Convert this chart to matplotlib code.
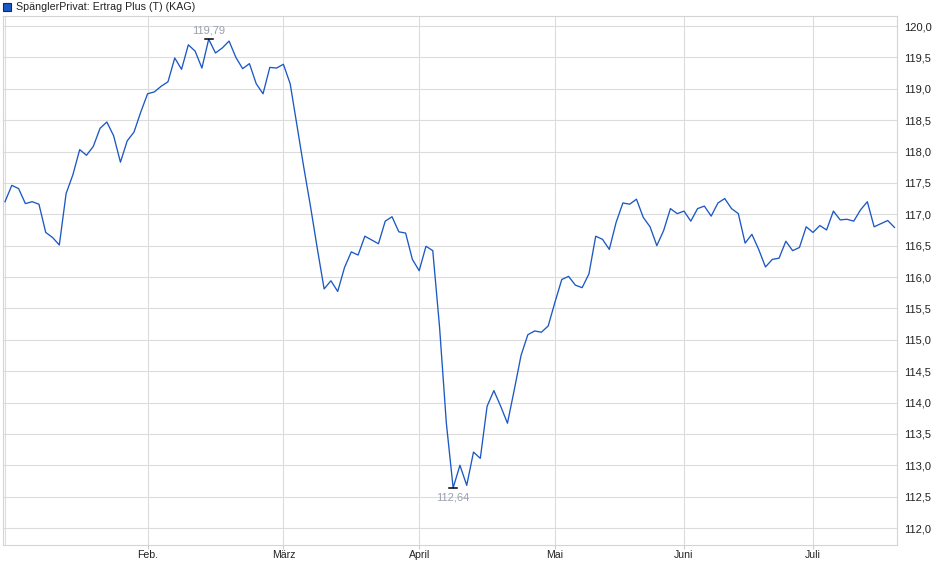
import matplotlib
matplotlib.use("Agg")
import matplotlib.pyplot as plt
from matplotlib.patches import Rectangle

plt.rcParams["font.family"] = ["Liberation Sans", "DejaVu Sans"]

# Kursverlauf (Handelstage ab Jahresbeginn)
werte = [
    117.20, 117.46, 117.41, 117.17, 117.20, 117.16, 116.71, 116.63, 116.51, 117.33,
    117.63, 118.03, 117.94, 118.08, 118.37, 118.47, 118.25, 117.83, 118.17, 118.31,
    118.63, 118.92, 118.95, 119.04, 119.11, 119.49, 119.31, 119.70, 119.60, 119.33,
    119.79, 119.57, 119.65, 119.76, 119.50, 119.32, 119.40, 119.08, 118.92, 119.34,
    119.33, 119.39, 119.08, 118.42, 117.75, 117.12, 116.45, 115.81, 115.94, 115.77,
    116.15, 116.40, 116.35, 116.65, 116.59, 116.53, 116.89, 116.96, 116.72, 116.70,
    116.28, 116.10, 116.49, 116.42, 115.20, 113.67, 112.64, 113.00, 112.68, 113.21,
    113.11, 113.94, 114.19, 113.94, 113.67, 114.20, 114.75, 115.08, 115.14, 115.12,
    115.22, 115.60, 115.96, 116.01, 115.87, 115.83, 116.05, 116.65, 116.60, 116.44,
    116.87, 117.18, 117.16, 117.24, 116.95, 116.80, 116.50, 116.74, 117.09, 117.01,
    117.05, 116.89, 117.09, 117.13, 116.97, 117.18, 117.25, 117.09, 117.01, 116.54,
    116.68, 116.44, 116.16, 116.28, 116.30, 116.57, 116.42, 116.47, 116.80, 116.71,
    116.82, 116.75, 117.05, 116.91, 116.92, 116.89, 117.07, 117.20, 116.80, 116.85,
    116.90, 116.79,
]
tage = list(range(len(werte)))

monat_pos = [21, 41, 61, 81, 100, 119]
monat_namen = ["Feb.", "März", "April", "Mai", "Juni", "Juli"]
y_ticks = [112.0 + 0.5 * k for k in range(17)]

titel = "SpänglerPrivat: Ertrag Plus (T) (KAG)"
blau = "#1c58c4"
grid = "#dcdcdc"

W, H = 940, 579
fig = plt.figure(figsize=(W / 100, H / 100), dpi=100)
ax = fig.add_axes([3 / W, 1 - 545 / H, 894 / W, 529 / H])

ax.plot(tage, werte, color=blau, lw=0.95, zorder=3)

ax.set_xlim(-2 / 6.79, 892 / 6.79)
ax.set_ylim(112 - 17 / 62.75, 120 + 10 / 62.75)

ax.set_yticks(y_ticks)
ax.set_yticklabels([f"{v:.1f}".replace(".", ",") for v in y_ticks])
ax.yaxis.tick_right()
ax.set_xticks(monat_pos)
ax.set_xticklabels(monat_namen)

ax.grid(True, color=grid, lw=0.8, zorder=0)
ax.axvline(0, color=grid, lw=0.8, zorder=0)
ax.tick_params(axis="y", length=0, pad=5, labelsize=8, labelcolor="#222222")
ax.tick_params(axis="x", length=3, width=0.8, color="#cccccc", pad=0.5,
               labelsize=7.6, labelcolor="#222222")
for s in ax.spines.values():
    s.set_color("#d4d4d4")
    s.set_linewidth(0.8)

# Hoch / Tief markieren
i_max = werte.index(max(werte))
i_min = werte.index(min(werte))
grau = "#9aa0b0"
ax.plot([i_max - 0.6, i_max + 0.6], [werte[i_max]] * 2, color="black", lw=1.1, zorder=4)
ax.annotate(f"{werte[i_max]:.2f}".replace(".", ","), (i_max, werte[i_max]),
            xytext=(0, 6.5), textcoords="offset points", ha="center", va="center",
            fontsize=8, color=grau)
ax.plot([i_min - 0.6, i_min + 0.6], [werte[i_min]] * 2, color="black", lw=1.1, zorder=4)
ax.annotate(f"{werte[i_min]:.2f}".replace(".", ","), (i_min, werte[i_min]),
            xytext=(0, -7), textcoords="offset points", ha="center", va="center",
            fontsize=8, color=grau)

# Legende oben links
fig.patches.append(Rectangle((3 / W, 1 - 11 / H), 8 / W, 8 / H, transform=fig.transFigure,
                             facecolor=blau, edgecolor="#0d2a66", lw=0.8))
fig.text(16 / W, 1 - 7 / H, titel, fontsize=7.7, color="#222222", va="center", ha="left")

fig.savefig("out.png", dpi=100)
